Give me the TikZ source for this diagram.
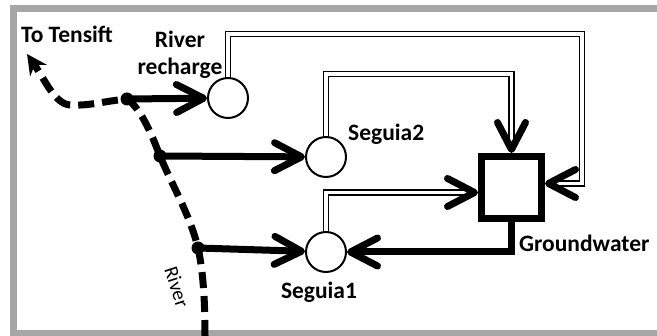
\documentclass[tikz,border=0pt]{standalone}
\usepackage{fontspec}
\setmainfont{Carlito}
\usetikzlibrary{arrows.meta,calc}
\begin{document}
\begin{tikzpicture}[x=1pt,y=-1pt,
  lbl/.style={font=\bfseries\fontsize{23.5}{27}\selectfont, inner sep=0pt},
  proc/.style={circle, draw, line width=2pt, minimum size=40pt, inner sep=0pt, fill=white},
  store/.style={rectangle, draw, line width=7pt, minimum width=60pt, minimum height=62pt, inner sep=0pt, fill=white},
  junction/.style={circle, fill=black, minimum size=13pt, inner sep=0pt},
  flow/.style={line width=7pt, -{Straight Barb[length=27pt,width=28pt,line width=7pt,round]}},
  dbl/.style={double, draw=black, line width=1.7pt, double distance=3.2pt},
  dbltip/.style={-{Straight Barb[length=27pt,width=28pt,line width=7pt,round]}},
  river/.style={line width=7pt, dash pattern=on 16pt off 8pt, -{Stealth[length=20pt,width=20pt]}},
]
\useasboundingbox (0,0) rectangle (657,336);
% frame
\draw[line width=7pt, draw={rgb,255:red,166;green,166;blue,166}] (13.5,8.5) rectangle (700,333.5);

% river
\coordinate (rb) at (205,336);
\coordinate (j3) at (198,248);
\coordinate (j2) at (160,156);
\coordinate (j1) at (127,99);
\coordinate (rt) at (27,54);
\draw[river] (rb) .. controls (205,300) and (203,270) .. (j3)
  .. controls (190,215) and (172,185) .. (j2)
  .. controls (150,130) and (140,108) .. (j1)
  .. controls (105,101) and (90,106) .. (70,105)
  .. controls (55,104) and (45,80) .. (rt);
\node[junction] (d1) at (j1) {};
\node[junction] (d2) at (j2) {};
\node[junction] (d3) at (j3) {};

% nodes
\node[proc] (rr) at (228,98) {};
\node[proc] (s2) at (326,157) {};
\node[proc] (s1) at (326,252) {};
\node[store] (gw) at (511.5,187.5) {};

% labels
\node[lbl, anchor=base west] (tt) at (21,43) {To Tensift};
\node[lbl, anchor=base, align=center] (rrl) at (180,75) {River\\recharge};
\node[lbl, anchor=base west] (s2l) at (348,141) {Seguia2};
\node[lbl, anchor=base] (s1l) at (319,299) {Seguia1};
\node[lbl, anchor=base west] (gwl) at (519,252) {Groundwater};
\node[font=\fontsize{20}{24}\selectfont, inner sep=0pt, rotate=-72] (rvl) at (177,287) {River};

% double-line flows
\coordinate (c1) at (582,34);
\coordinate (c2) at (511.5,74);
\draw[dbl] (rr.north) |- (c1) |- ([xshift=3pt,yshift=4pt]gw.east);
\draw[dbltip] ([xshift=2pt,yshift=4pt]gw.east) -- ([yshift=4pt]gw.east);
\draw[dbl] (s2.north) |- (c2) -- ([yshift=3pt]gw.north);
\draw[dbltip] ([yshift=2pt]gw.north) -- (gw.north);
\draw[dbl] (s1.north) |- ([xshift=-3pt,yshift=-5pt]gw.west);
\draw[dbltip] ([xshift=-2pt,yshift=-5pt]gw.west) -- ([yshift=-5pt]gw.west);

% thick flows
\draw[flow] (d1.center) -- (rr);
\draw[flow] (d2.center) -- (s2);
\draw[flow] (d3.center) -- (s1);
\draw[flow] (gw.south) |- (s1.east);
\end{tikzpicture}
\end{document}
